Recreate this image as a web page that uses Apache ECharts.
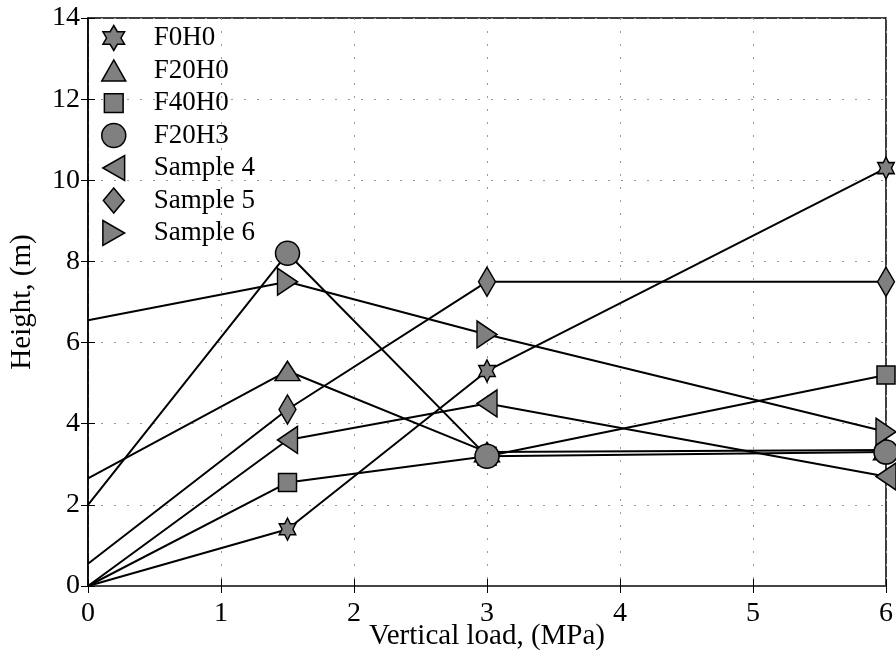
<!DOCTYPE html>
<html>
<head>
<meta charset="utf-8">
<script src="https://cdn.jsdelivr.net/npm/echarts@6/dist/echarts.min.js"></script>
<style>html,body{margin:0;padding:0;background:#fff;}#c{width:896px;height:660px;}</style>
</head>
<body>
<div id="c"></div>
<script>
// ---- data ----
var loads = [0, 1.5, 3, 6];
var seriesNames = ['F0H0', 'F20H0', 'F40H0', 'F20H3', 'Sample 4', 'Sample 5', 'Sample 6'];
var F0H0 = [0, 1.4, 5.3, 10.3];
var F20H0 = [2.65, 5.3, 3.3, 3.35];
var F40H0 = [0, 2.55, 3.2, 5.2];
var F20H3 = [2.0, 8.2, 3.2, 3.3];
var Sample4 = [0, 3.6, 4.5, 2.7];
var Sample5 = [0.55, 4.35, 7.5, 7.5];
var Sample6 = [6.55, 7.5, 6.2, 3.8];
var xTicks = [0, 1, 2, 3, 4, 5, 6];
var yTicks = [0, 2, 4, 6, 8, 10, 12, 14];

// ---- marker shapes ----
var STAR = 'path://M100,0 L128.87,50 L186.6,50 L157.74,100 L186.6,150 L128.87,150 L100,200 L71.13,150 L13.4,150 L42.26,100 L13.4,50 L71.13,50 Z';
var TRI_UP = 'path://M50,0 L100,88 L0,88 Z';
var SQUARE = 'path://M0,0 L100,0 L100,100 L0,100 Z';
var SQUARE_LEGEND = 'path://M-14,-14 M114,114 M0,0 L100,0 L100,100 L0,100 Z';
var TRI_LEFT = 'path://M0,50 L87,0 L87,100 Z';
var DIAMOND = 'path://M50,0 L100,65 L50,130 L0,65 Z';
var DIAMOND_LEGEND = 'path://M50,0 L100,60 L50,120 L0,60 Z';
var TRI_RIGHT = 'path://M0,0 L87,50 L0,100 Z';

var allValues = [F0H0, F20H0, F40H0, F20H3, Sample4, Sample5, Sample6];
var symbols = [STAR, TRI_UP, SQUARE, 'circle', TRI_LEFT, DIAMOND, TRI_RIGHT];
var legendIcons = [STAR, TRI_UP, SQUARE_LEGEND, 'circle', TRI_LEFT, DIAMOND_LEGEND, TRI_RIGHT];
var sizes = [[19, 22], [25, 22], [18, 18], 24, [23, 27], [22, 29], [23, 27]];

var FONT = 'Liberation Serif';

var series = allValues.map(function (vals, k) {
  return {
    name: seriesNames[k],
    type: 'line',
    data: loads.map(function (x, i) {
      var item = { value: [x, vals[i]] };
      if (x === 0) { item.symbol = 'none'; }
      return item;
    }),
    symbol: symbols[k],
    symbolSize: sizes[k],
    symbolKeepAspect: true,
    showAllSymbol: true,
    clip: false,
    lineStyle: { color: '#000', width: 2 },
    itemStyle: { color: '#808080', borderColor: '#000', borderWidth: 1.5 },
    emphasis: { disabled: true },
    animation: false
  };
});

var chart = echarts.init(document.getElementById('c'), null, { renderer: 'canvas' });
chart.setOption({
  animation: false,
  backgroundColor: '#fff',
  grid: {
    left: 88, right: 10, top: 18, bottom: 74,
    containLabel: false, outerBoundsMode: 'none',
    show: true, borderColor: '#000', borderWidth: 1.5, backgroundColor: 'transparent'
  },
  legend: {
    orient: 'vertical',
    left: 101,
    top: 24.5,
    padding: 0,
    itemWidth: 24,
    itemHeight: 25,
    itemGap: 5.5,
    symbolKeepAspect: true,
    data: seriesNames.map(function (n, k) { return { name: n, icon: legendIcons[k] }; }),
    itemStyle: { color: '#808080', borderColor: '#000', borderWidth: 1.5 },
    formatter: function (name) { return '{s|}' + name; },
    textStyle: {
      fontFamily: FONT, fontSize: 27, color: '#000',
      rich: { s: { width: 23, fontFamily: FONT, fontSize: 27 } }
    },
    selectedMode: false
  },
  xAxis: [{
    type: 'value', min: xTicks[0], max: xTicks[xTicks.length - 1], interval: 1,
    position: 'bottom',
    name: 'Vertical load, (MPa)', nameLocation: 'middle', nameGap: 36, nameMoveOverlap: false,
    nameTextStyle: { fontFamily: FONT, fontSize: 29, color: '#000' },
    axisLine: { show: true, lineStyle: { color: '#444', width: 2 } },
    axisTick: { show: true, inside: true, length: 7, lineStyle: { color: '#000', width: 1 } },
    axisLabel: { fontFamily: FONT, fontSize: 28, color: '#000', margin: 14 },
    splitLine: { show: true, lineStyle: { color: '#999', width: 1, type: [2, 11] } }
  }, {
    type: 'value', min: xTicks[0], max: xTicks[xTicks.length - 1], interval: 1,
    position: 'top',
    axisLine: { show: false },
    axisTick: { show: true, inside: true, length: 7, lineStyle: { color: '#000', width: 1 } },
    axisLabel: { show: false },
    splitLine: { show: false }
  }],
  yAxis: [{
    type: 'value', min: yTicks[0], max: yTicks[yTicks.length - 1], interval: 2,
    position: 'left',
    name: 'Height, (m)', nameLocation: 'middle', nameGap: 51, nameRotate: 90,
    nameTextStyle: { fontFamily: FONT, fontSize: 29, color: '#000' },
    axisLine: { show: true, lineStyle: { color: '#000', width: 1.5 } },
    axisTick: { show: true, inside: true, length: 7, lineStyle: { color: '#000', width: 1 } },
    axisLabel: { fontFamily: FONT, fontSize: 28, color: '#000', margin: 8 },
    splitLine: { show: true, lineStyle: { color: '#999', width: 1, type: [2, 11] } }
  }, {
    type: 'value', min: yTicks[0], max: yTicks[yTicks.length - 1], interval: 2,
    position: 'right',
    axisLine: { show: false },
    axisTick: { show: true, inside: true, length: 7, lineStyle: { color: '#000', width: 1 } },
    axisLabel: { show: false },
    splitLine: { show: false }
  }],
  series: series
});
</script>
</body>
</html>
